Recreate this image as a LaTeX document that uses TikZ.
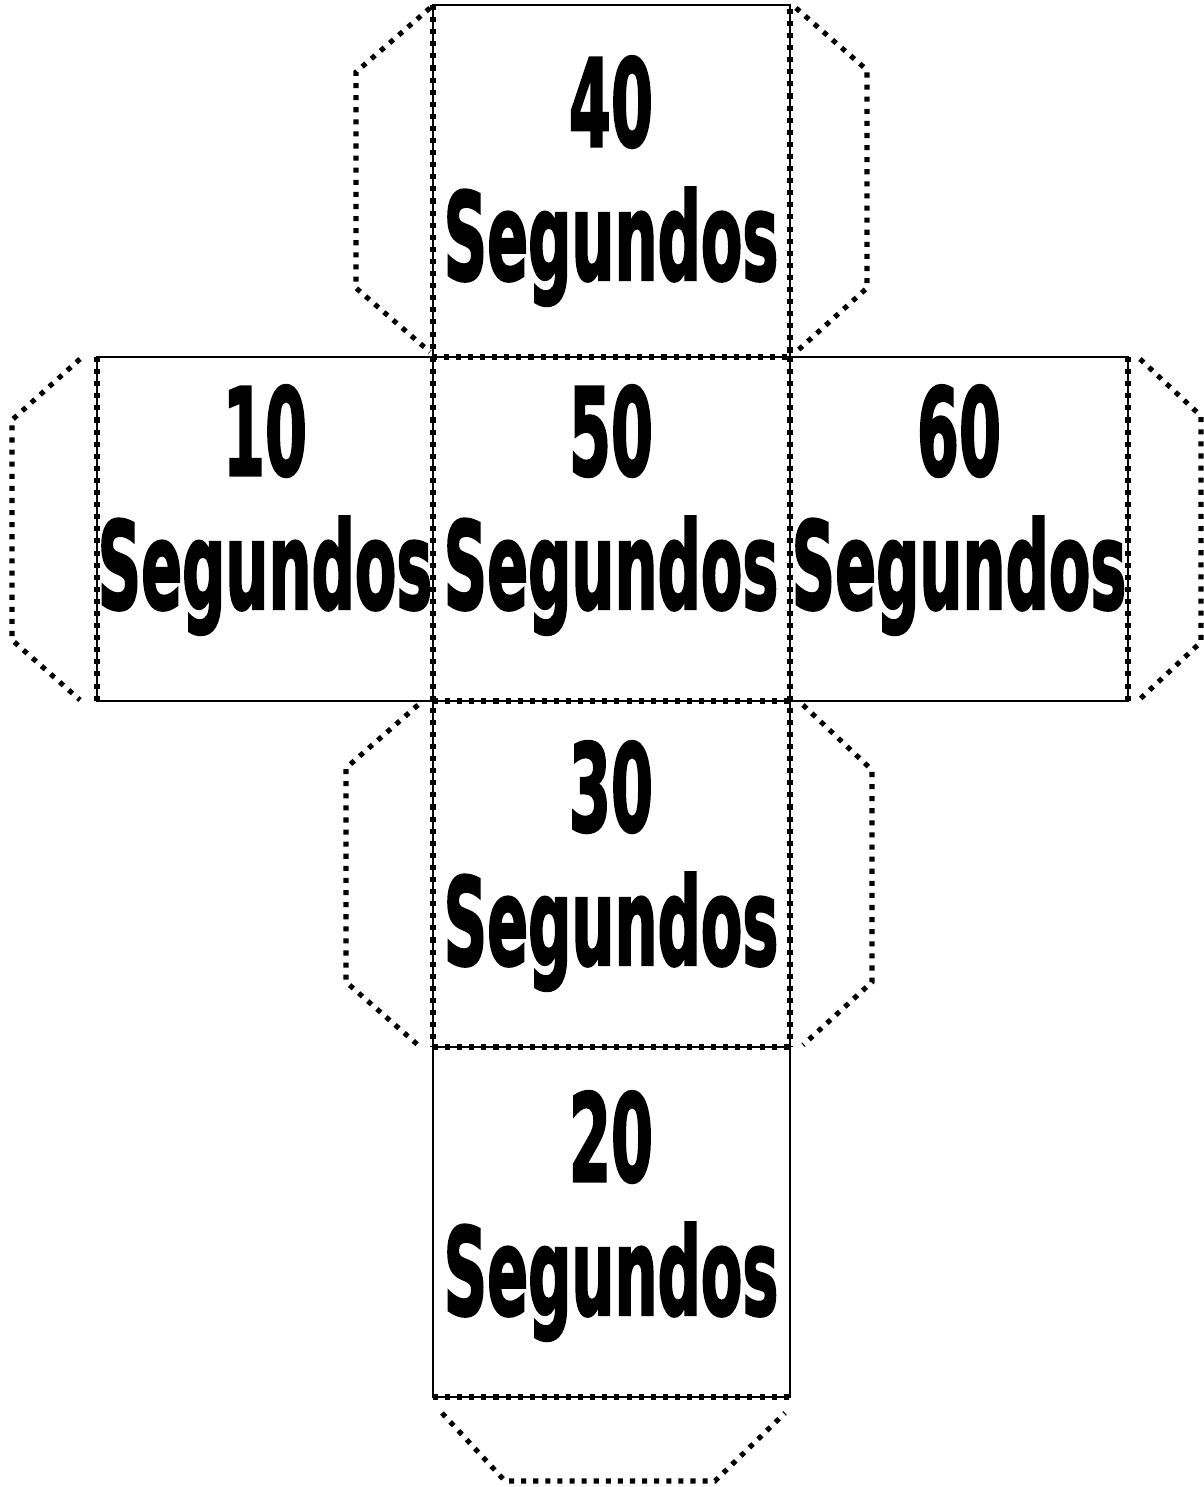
\documentclass[tikz,border=0pt]{standalone}
\usepackage{fontspec}
\newfontfamily\facefont{DejaVu Sans}[BoldFeatures={FakeBold=2.5}]
\usepackage{tikz}
\usetikzlibrary{positioning}

\begin{document}
\begin{tikzpicture}[x=0.025cm, y=-0.025cm,
    face/.style={draw=black, line width=1.4pt},
    fold/.style={black, line width=3.6pt, dash pattern=on 3.6pt off 5pt},
    facelabel/.style={font=\facefont\bfseries\fontsize{86}{95}\selectfont,
      align=center, inner sep=0pt, xscale=0.5, transform shape}]
      \useasboundingbox (0,0) rectangle (1204,1487);
      % Faces of the net
      \draw[face] (433,5) rectangle (790,357);
      \draw[face] (97,357) rectangle (433,701);
      \draw[face] (433,357) rectangle (790,701);
      \draw[face] (790,357) rectangle (1128,701);
      \draw[face] (433,701) rectangle (790,1047);
      \draw[face] (433,1047) rectangle (790,1397);
      % Fold lines
      \draw[fold] (433,5) -- (433,357) -- (790,357) -- (790,5);
      \draw[fold] (97,357) -- (97,701);
      \draw[fold] (1128,357) -- (1128,701);
      \draw[fold] (433,357) -- (433,1047);
      \draw[fold] (790,357) -- (790,1047);
      \draw[fold] (433,701) -- (790,701);
      \draw[fold] (433,1047) -- (790,1047);
      \draw[fold] (433,1397) -- (790,1397);
      % Glue flaps
      \draw[fold] (430,8) -- (356,72) -- (356,288) -- (430,352);
      \draw[fold] (796,8) -- (867,70) -- (867,288) -- (796,352);
      \draw[fold] (80,359) -- (12,420) -- (12,640) -- (80,700);
      \draw[fold] (1140,359) -- (1201,416) -- (1201,642) -- (1140,699);
      \draw[fold] (418,705) -- (346,768) -- (346,982) -- (418,1045);
      \draw[fold] (803,705) -- (872,770) -- (872,982) -- (803,1045);
      \draw[fold] (442,1413) -- (505,1481) -- (715,1481) -- (785,1413);
      % Labels
      \node[facelabel] (t40) at (611,181) {40\\Segundos};
      \node[facelabel] (t10) at (265,510) {10\\Segundos};
      \node[facelabel] (t50) at (611,510) {50\\Segundos};
      \node[facelabel] (t60) at (959,510) {60\\Segundos};
      \node[facelabel] (t30) at (611,866) {30\\Segundos};
      \node[facelabel] (t20) at (611,1216) {20\\Segundos};
\end{tikzpicture}
\end{document}
